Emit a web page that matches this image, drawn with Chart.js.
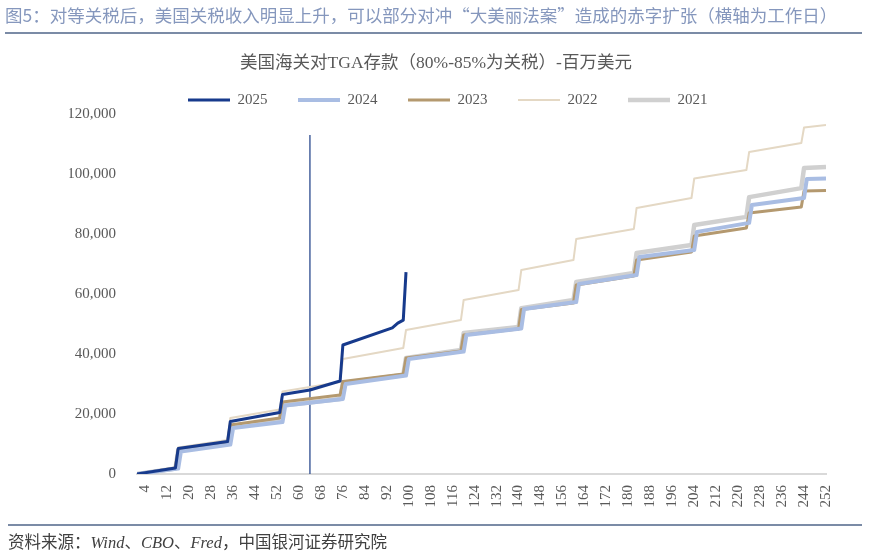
<!DOCTYPE html>
<html><head><meta charset="utf-8">
<script src="https://cdn.jsdelivr.net/npm/chart.js@4.4.1/dist/chart.umd.min.js"></script>
<style>
html,body{margin:0;padding:0;background:#fff;}
#wrap{position:relative;width:872px;height:560px;overflow:hidden;background:#fff;}
canvas{position:absolute;left:0;top:0;}
.t{position:absolute;white-space:nowrap;}
.rule{position:absolute;height:2px;background:#7b8ba6;}
</style></head><body>
<div id="wrap">
<canvas id="c" width="872" height="560"></canvas>
<div class="t" style="left:5px;top:5px;line-height:20px;font-size:17.5px;color:#8597bd;font-family:'Noto Sans CJK SC',sans-serif;">图5：对等关税后，美国关税收入明显上升，可以部分对冲“大美丽法案”造成的赤字扩张（横轴为工作日）</div>
<div class="rule" style="left:5px;top:32px;width:857px;"></div>
<div class="t" style="left:0;width:872px;text-align:center;top:51px;line-height:22px;font-size:17.5px;color:#595959;font-family:'Liberation Serif','Noto Sans CJK SC',serif;">美国海关对TGA存款（80%-85%为关税）-百万美元</div>
<div class="rule" style="left:8px;top:524px;width:854px;"></div>
<div class="t" style="left:8px;top:533px;line-height:20px;font-size:16.5px;color:#404040;font-family:'Liberation Serif','Noto Sans CJK SC',serif;">资料来源：<i>Wind</i>、<i>CBO</i>、<i>Fred</i>，中国银河证券研究院</div>
</div>
<script>
// ---- data (business day index -> cumulative deposits, USD mn) ----
const seriesNames = ['2025', '2024', '2023', '2022', '2021'];

const days2025 = [1, 15, 16, 34, 35, 53, 54, 64, 75, 76, 94, 96, 98, 99];
const vals2025 = [0, 2000, 8500, 10800, 17500, 20500, 26500, 28000, 31000, 43000, 48700, 50300, 51300, 67300];

const days2024 = [1, 16, 17, 35, 36, 54, 55, 76, 77, 99, 100, 120, 121, 141, 142, 161, 162, 183, 184, 204, 205, 224, 225, 244, 245, 252];
const vals2024 = [0, 1800, 7500, 9800, 15300, 17300, 22800, 25000, 30000, 32800, 38300, 40800, 46300, 48500, 55000, 57300, 63300, 66300, 72300, 74700, 80700, 83700, 89700, 92000, 98300, 98500];

const days2023 = [1, 15, 16, 34, 35, 53, 54, 75, 76, 98, 99, 119, 120, 140, 141, 160, 161, 182, 183, 203, 204, 223, 224, 243, 244, 252];
const vals2023 = [0, 2000, 8200, 10300, 16300, 18700, 24000, 26300, 30800, 33300, 38700, 41000, 46300, 48300, 54800, 57000, 63000, 66000, 71300, 74000, 79300, 82000, 87000, 89000, 94300, 94500];

const days2022 = [1, 15, 16, 34, 35, 53, 54, 75, 76, 98, 99, 119, 120, 140, 141, 160, 161, 182, 183, 203, 204, 223, 224, 243, 244, 252];
const vals2022 = [0, 2000, 8800, 11300, 18700, 21500, 27500, 30700, 38300, 42000, 48000, 51300, 58000, 61300, 68000, 71300, 78300, 81700, 88700, 92000, 98500, 101300, 107300, 110300, 115500, 116300];

const days2021 = [1, 15, 16, 34, 35, 53, 54, 75, 76, 98, 99, 119, 120, 140, 141, 160, 161, 182, 183, 203, 204, 223, 224, 243, 244, 252];
const vals2021 = [0, 1800, 7800, 10000, 15500, 18000, 22800, 25000, 30300, 33000, 38700, 41300, 47000, 49000, 55300, 58000, 64000, 67000, 73700, 76300, 83000, 85700, 92300, 95300, 102000, 102300];

// marker line (vertical reference at business day 64)
const markerDays = [64, 64];
const markerVals = [0, 113000];

const xTickLabels = [4, 12, 20, 28, 36, 44, 52, 60, 68, 76, 84, 92, 100, 108, 116, 124, 132, 140, 148, 156, 164, 172, 180, 188, 196, 204, 212, 220, 228, 236, 244, 252];
const yTickLabels = [0, 20000, 40000, 60000, 80000, 100000, 120000];

// ---- styles ----
const colors = ['#173a8c', '#a9bde3', '#b4996f', '#e4d8c4', '#d0d0d0'];
const widths = [3, 4, 3, 2, 4.5];

const pts = (d, v) => d.map((x, i) => ({x: x, y: v[i]}));
const allDays = [days2025, days2024, days2023, days2022, days2021];
const allVals = [vals2025, vals2024, vals2023, vals2022, vals2021];

const datasets = seriesNames.map((n, i) => ({
  label: n,
  data: pts(allDays[i], allVals[i]),
  borderColor: colors[i],
  backgroundColor: colors[i],
  borderWidth: widths[i],
  pointRadius: 0,
  tension: 0,
  borderJoinStyle: 'round',
  borderCapStyle: 'butt'
}));
datasets.push({
  label: 'marker',
  data: pts(markerDays, markerVals),
  borderColor: '#2a4a8e',
  borderWidth: 1.3,
  pointRadius: 0
});

const legendTrim = {
  id: 'legendTrim',
  beforeLayout(chart) {
    const lg = chart.legend;
    if (lg && !lg._trimmed) {
      const f = lg.fit;
      lg.fit = function () { f.call(this); this.height -= 3.5; };
      lg._trimmed = true;
    }
  }
};

const serif = "'Liberation Serif', 'Noto Sans CJK SC', serif";

new Chart(document.getElementById('c'), {
  type: 'line',
  data: {datasets},
  plugins: [legendTrim],
  options: {
    responsive: false,
    animation: false,
    layout: {padding: {left: 69.5, right: 46, top: 62, bottom: 0}},
    plugins: {
      title: {display: false},
      tooltip: {enabled: false},
      legend: {
        display: true,
        position: 'top',
        labels: {
          font: {family: serif, size: 15},
          color: '#595959',
          boxWidth: 42,
          boxHeight: 0,
          padding: 30.5,
          filter: (item) => item.datasetIndex < 5,
          generateLabels: (chart) => chart.data.datasets.map((ds, i) => ({
            text: ds.label,
            fillStyle: ds.borderColor,
            strokeStyle: ds.borderColor,
            lineWidth: ds.borderWidth,
            lineCap: 'butt',
            hidden: false,
            datasetIndex: i,
            fontColor: '#595959'
          }))
        }
      }
    },
    scales: {
      x: {
        type: 'linear',
        min: 1,
        max: 252,
        grid: {display: false, drawTicks: false},
        border: {display: true, color: '#d9d9d9', width: 2},
        afterBuildTicks: (s) => { s.ticks = xTickLabels.map(v => ({value: v})); },
        afterFit: (s) => { s.height = 86; },
        ticks: {
          autoSkip: false,
          minRotation: 90,
          maxRotation: 90,
          padding: 11,
          color: '#595959',
          font: {family: serif, size: 15},
          callback: (v) => String(v)
        }
      },
      y: {
        min: 0,
        max: 120000,
        grid: {display: false, drawTicks: false},
        border: {display: false},
        afterBuildTicks: (s) => { s.ticks = yTickLabels.map(v => ({value: v})); },
        afterFit: (s) => { s.width = 67.5; },
        ticks: {
          padding: 21,
          color: '#595959',
          font: {family: serif, size: 15},
          callback: (v) => v.toLocaleString('en-US')
        }
      }
    }
  }
});
</script>
</body></html>
